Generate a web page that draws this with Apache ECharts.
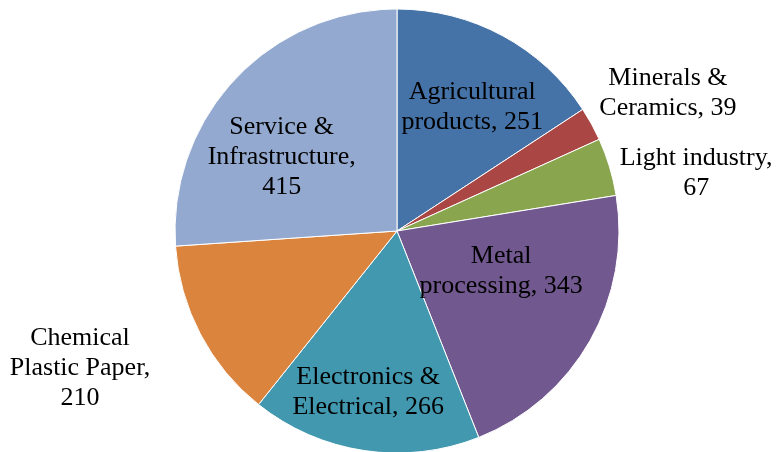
<!DOCTYPE html>
<html>
<head>
<meta charset="utf-8">
<script src="https://cdn.jsdelivr.net/npm/echarts@6/dist/echarts.min.js"></script>
<style>html,body{margin:0;padding:0;background:#fff}#c{width:779px;height:452px}</style>
</head>
<body>
<div id="c"></div>
<script>
const categories = ['Agricultural\nproducts', 'Minerals &\nCeramics', 'Light industry,\n', 'Metal\nprocessing', 'Electronics &\nElectrical', 'Chemical\nPlastic Paper,\n', 'Service &\nInfrastructure,\n'];
const labelSep = [', ', ', ', '', ', ', ', ', '', ''];
const values = [251, 39, 67, 343, 266, 210, 415];
const colors = ['#4572A7', '#AA4643', '#89A54E', '#71588F', '#4198AF', '#DB843D', '#93A9CF'];
// label offsets from the default inside position
const labelOffsets = [[21, -24], [171, -83], [190, -25], [5, -16], [-12, 48], [-216, 84], [-32, 4]];

const chart = echarts.init(document.getElementById('c'), null, {renderer: 'canvas'});
chart.setOption({
  animation: false,
  series: [{
    type: 'pie',
    center: [397, 231],
    radius: [0, 222],
    startAngle: 90,
    clockwise: true,
    avoidLabelOverlap: false,
    itemStyle: {borderColor: '#ffffff', borderWidth: 1},
    label: {
      show: true,
      position: 'inside',
      fontFamily: 'Liberation Serif',
      fontSize: 26,
      lineHeight: 30,
      color: '#000',
      align: 'center',
      formatter: p => p.name + labelSep[p.dataIndex] + p.value
    },
    labelLine: {show: false},
    labelLayout: p => ({dx: labelOffsets[p.dataIndex][0], dy: labelOffsets[p.dataIndex][1]}),
    emphasis: {disabled: true},
    data: categories.map((n, i) => ({name: n, value: values[i], itemStyle: {color: colors[i]}}))
  }]
});
</script>
</body>
</html>
